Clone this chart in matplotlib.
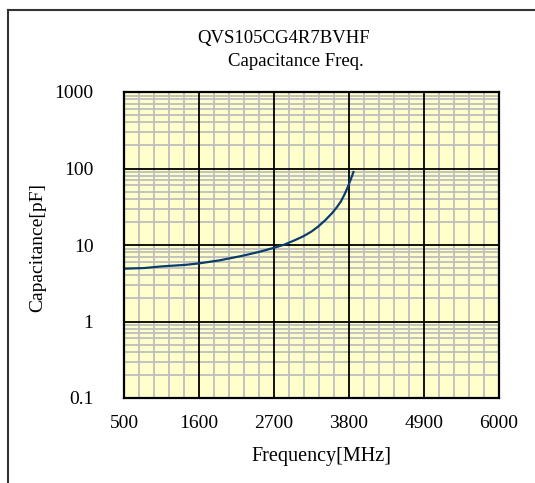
import matplotlib.pyplot as plt
from matplotlib.lines import Line2D
from matplotlib.ticker import FixedLocator, NullFormatter

# values
freq_mhz = [500, 800, 1050, 1400, 1600, 1900, 2230, 2500, 2700, 2850,
            3000, 3130, 3250, 3350, 3450, 3550, 3620, 3680, 3730, 3785,
            3820, 3845, 3865]
cap_pf = [4.9, 5.0, 5.25, 5.5, 5.75, 6.3, 7.2, 8.2, 9.2, 10.1,
          11.5, 13.0, 15.0, 17.5, 21.0, 26.0, 31.0, 37.0, 45.0, 58.0,
          70.0, 80.0, 90.0]

x_ticks = [500, 1600, 2700, 3800, 4900, 6000]
y_ticks = [0.1, 1, 10, 100, 1000]
y_labels = ['0.1', '1', '10', '100', '1000']

plt.rcParams['font.family'] = ['Liberation Serif', 'DejaVu Serif']

fig = plt.figure(figsize=(5.35, 4.83), dpi=100)
ax = fig.add_axes([124/535, 1 - 398/483, 375/535, 306/483])
ax.set_facecolor('#FFFFCC')

ax.plot(freq_mhz, cap_pf, color='#0B3C6E', lw=1.6, zorder=5)

ax.set_yscale('log')
ax.set_xlim(500, 6000)
ax.set_ylim(0.1, 1000)

ax.set_xticks(x_ticks)
ax.xaxis.set_minor_locator(FixedLocator([500 + 220*i for i in range(26) if i % 5]))
ax.set_yticks(y_ticks)
ax.set_yticklabels(y_labels)
ax.yaxis.set_minor_locator(FixedLocator([m * 10**e for e in range(-1, 3) for m in range(2, 10)]))
ax.yaxis.set_minor_formatter(NullFormatter())

# minor grid under, major grid drawn on top of it
ax.grid(which='minor', color='#BEBEBE', lw=1.3)
ax.set_axisbelow(True)
for xv in x_ticks[1:-1]:
    ax.axvline(xv, color='black', lw=1.3, zorder=2)
for yv in y_ticks[1:-1]:
    ax.axhline(yv, color='black', lw=1.3, zorder=2)

ax.tick_params(which='both', length=0, labelsize=14)
ax.tick_params(axis='y', pad=22)
ax.tick_params(axis='x', pad=12)
for s in ax.spines.values():
    s.set_linewidth(1.6)
    s.set_color('black')
    s.set_zorder(6)

fig.text(284/535, 1 - 38/483, 'QVS105CG4R7BVHF', ha='center', va='center', fontsize=13.5)
fig.text(296/535, 1 - 62/483, 'Capacitance Freq.', ha='center', va='center', fontsize=13.5)
fig.text(321/535, 1 - 456/483, 'Frequency[MHz]', ha='center', va='center', fontsize=14.5)
fig.text(38/535, 1 - 247/483, 'Capacitance[pF]', ha='center', va='center',
         rotation=90, fontsize=14)

# outer frame (left and top only visible)
fig.add_artist(Line2D([8/535, 8/535], [0, 1 - 10/483], transform=fig.transFigure,
                      color='#333333', lw=1.5))
fig.add_artist(Line2D([8/535, 1], [1 - 10/483, 1 - 10/483], transform=fig.transFigure,
                      color='#333333', lw=1.5))

fig.savefig('out.png', dpi=100)
